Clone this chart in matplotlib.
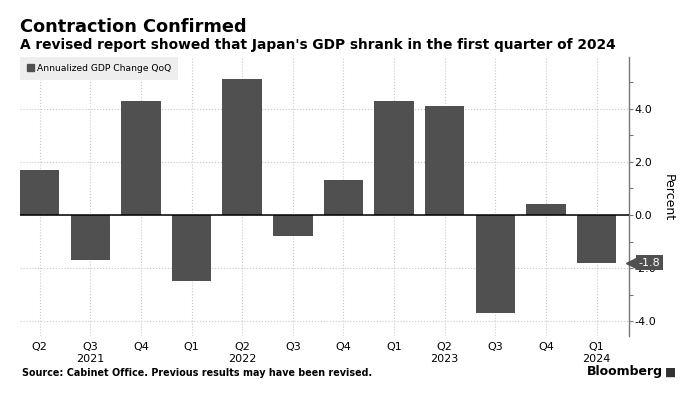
import matplotlib
matplotlib.use("Agg")
import matplotlib.pyplot as plt
from matplotlib.patches import Patch
from matplotlib.ticker import MultipleLocator, FormatStrFormatter
import matplotlib.transforms as mtransforms

# Data (annualized GDP change QoQ, percent)
quarters = ["Q2", "Q3", "Q4", "Q1", "Q2", "Q3", "Q4", "Q1", "Q2", "Q3", "Q4", "Q1"]
years = ["", "2021", "", "", "2022", "", "", "", "2023", "", "", "2024"]
gdp_change = [1.7, -1.7, 4.3, -2.5, 5.1, -0.8, 1.3, 4.3, 4.1, -3.7, 0.4, -1.8]

bar_color = "#505050"
grid_color = "#c8c8c8"

plt.rcParams["font.family"] = ["DejaVu Sans"]

fig = plt.figure(figsize=(6.91, 3.96), dpi=100)
ax = fig.add_axes([20 / 691, 60 / 396, 609 / 691, 279 / 396])

x = list(range(len(gdp_change)))
bars = ax.bar(x, gdp_change, width=0.78, color=bar_color, zorder=2)

ax.set_xlim(-0.39, 11.64)
ax.set_ylim(-4.55, 5.94)

# x axis labels: quarter + year underneath
labels = [q + ("\n" + y if y else "") for q, y in zip(quarters, years)]
ax.set_xticks(x)
ax.set_xticklabels(labels, fontsize=8, linespacing=1.25, va="top")
ax.tick_params(axis="x", length=0, pad=4)

# y axis on the right
ax.yaxis.tick_right()
ax.yaxis.set_major_locator(MultipleLocator(2))
ax.yaxis.set_minor_locator(MultipleLocator(1))
ax.yaxis.set_major_formatter(FormatStrFormatter("%.1f"))
ax.tick_params(axis="y", which="both", length=3, width=0.8, color="#777777",
               labelsize=8, pad=1)

for s in ["top", "left", "bottom"]:
    ax.spines[s].set_visible(False)
ax.spines["right"].set_color("#777777")
ax.spines["right"].set_linewidth(1)

ax.grid(True, axis="both", which="major", color=grid_color, linestyle=":", linewidth=0.8, zorder=0)
ax.set_axisbelow(True)
ax.axhline(0, color="black", linewidth=1.1, zorder=3)

fig.text(668 / 691, 0.5, "Percent", rotation=270, ha="center", va="center", fontsize=9)

# legend
leg = ax.legend([Patch(color=bar_color)], ["Annualized GDP Change QoQ"],
                loc="upper left", bbox_to_anchor=(0, 1), borderaxespad=0,
                fontsize=6.6, frameon=True, fancybox=False, framealpha=1,
                facecolor="#eeeeee", edgecolor="none",
                handlelength=0.8, handleheight=0.8, handletextpad=0.3,
                borderpad=0.75)
leg.set_zorder(5)

# last value tag on the right axis
last = gdp_change[-1]
trans = mtransforms.blended_transform_factory(ax.transAxes, ax.transData)
ax.plot([1.005], [last], marker="<", markersize=9, color=bar_color,
        transform=trans, clip_on=False, zorder=6)
ax.text(1.016, last, f"{last:.1f}", transform=trans, color="white", fontsize=8,
        ha="left", va="center", clip_on=False, zorder=7,
        bbox=dict(boxstyle="square,pad=0.22", fc=bar_color, ec="none"))

# titles and footer
fig.text(20 / 691, 1 - 32 / 396, "Contraction Confirmed", fontsize=12.8,
         fontweight="bold", ha="left", va="baseline")
fig.text(20 / 691, 1 - 49 / 396,
         "A revised report showed that Japan's GDP shrank in the first quarter of 2024",
         fontsize=9.9, fontweight="bold", ha="left", va="baseline")
fig.text(22 / 691, 1 - 373 / 396,
         "Source: Cabinet Office. Previous results may have been revised.",
         fontsize=6.9, fontweight="bold", ha="left", va="center")
fig.text(663 / 691, 1 - 372 / 396, "Bloomberg", fontsize=9, fontweight="semibold",
         ha="right", va="center")
fig.text(671 / 691, 1 - 372 / 396, "\u25A0", fontsize=8.5, color="#333333",
         ha="center", va="center")

fig.savefig("out.png", dpi=100)
